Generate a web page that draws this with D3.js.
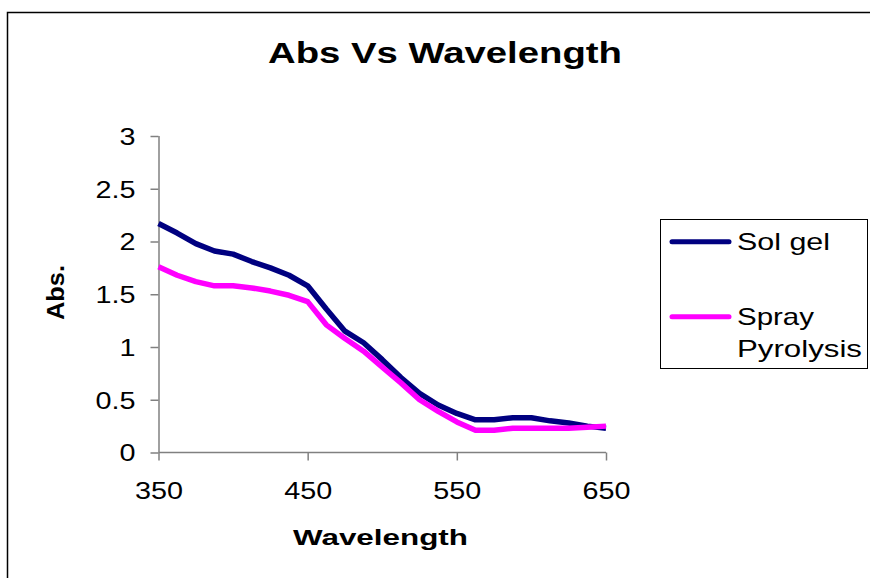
<!DOCTYPE html>
<html>
<head>
<meta charset="utf-8">
<script src="https://cdn.jsdelivr.net/npm/d3@7"></script>
<style>
  body { margin: 0; background: #fff; }
  text { font-family: "Liberation Sans", Arial, sans-serif; }
</style>
</head>
<body>
<div id="chart"></div>
<script>
var width  = 870;
var height = 578;

// wavelength (nm), every 12.5 nm
var wavelengths = [350, 362.5, 375, 387.5, 400, 412.5, 425, 437.5, 450, 462.5, 475, 487.5, 500,
  512.5, 525, 537.5, 550, 562.5, 575, 587.5, 600, 612.5, 625, 637.5, 650];
var solGel = [2.17, 2.08, 1.98, 1.91, 1.88, 1.81, 1.75, 1.68, 1.58, 1.36, 1.15, 1.04, 0.88,
  0.71, 0.56, 0.45, 0.37, 0.31, 0.31, 0.33, 0.33, 0.30, 0.28, 0.25, 0.23];
var sprayPyrolysis = [1.76, 1.68, 1.62, 1.58, 1.58, 1.56, 1.53, 1.49, 1.43, 1.21, 1.08, 0.96, 0.81,
  0.66, 0.50, 0.39, 0.29, 0.21, 0.21, 0.23, 0.23, 0.23, 0.23, 0.24, 0.25];
var seriesNames = ["Sol gel", "Spray Pyrolysis"];
var xTicks = [350, 450, 550, 650];
var yTicks = [0, 0.5, 1, 1.5, 2, 2.5, 3];

var svg = d3.select("#chart").append("svg")
  .attr("width", width)
  .attr("height", height);

// outer chart frame (runs off the right and bottom)
svg.append("rect")
  .attr("x", 7.5).attr("y", 12.5)
  .attr("width", 900).attr("height", 600)
  .style("fill", "none").style("stroke", "#000").style("stroke-width", 1.5);

var x = d3.scaleLinear().domain([350, 650]).range([158.5, 606]);
var y = d3.scaleLinear().domain([0, 3]).range([452.5, 136]);

// text in the picture is stretched sideways, so fit each label to its width
function labelWidth(s) {
  var w = 0;
  for (var i = 0; i < s.length; i++) w += (s[i] === ".") ? 8 : 16;
  return w;
}

// y axis
var yAxis = svg.append("g")
  .attr("transform", "translate(158.5,0)")
  .call(d3.axisLeft(y).tickValues(yTicks).tickSize(8).tickPadding(15)
    .tickFormat(function(d) { return String(d); }));
yAxis.select(".domain").attr("d", "M0.5," + y(3) + "V" + y(0));

// x axis
var xAxis = svg.append("g")
  .attr("transform", "translate(0,452.5)")
  .call(d3.axisBottom(x).tickValues(xTicks).tickSize(8).tickPadding(22)
    .tickFormat(function(d) { return String(d); }));
xAxis.select(".domain").attr("d", "M" + x(350) + ",0H" + x(650));

svg.selectAll(".domain, .tick line")
  .style("stroke", "#808080").style("stroke-width", 1.5);
svg.selectAll(".tick text")
  .style("font-size", "23px")
  .style("fill", "#000")
  .attr("textLength", function(d) { return labelWidth(String(d)); })
  .attr("lengthAdjust", "spacingAndGlyphs");
yAxis.selectAll(".tick text").attr("dy", "0.36em");

// lines
var line = d3.line()
  .x(function(d) { return x(d[0]); })
  .y(function(d) { return y(d[1]); });

var series = [
  { name: seriesNames[0], color: "#000080", values: d3.zip(wavelengths, solGel) },
  { name: seriesNames[1], color: "#ff00ff", values: d3.zip(wavelengths, sprayPyrolysis) }
];

svg.selectAll(".series")
  .data(series)
  .enter().append("path")
  .attr("class", "series")
  .attr("d", function(d) { return line(d.values); })
  .style("fill", "none")
  .style("stroke", function(d) { return d.color; })
  .style("stroke-width", 5.5)
  .style("stroke-linejoin", "round");

// title
svg.append("text")
  .attr("x", 445).attr("y", 63)
  .attr("text-anchor", "middle")
  .attr("textLength", 354).attr("lengthAdjust", "spacingAndGlyphs")
  .style("font-size", "29px").style("font-weight", "bold")
  .text("Abs Vs Wavelength");

// axis titles
svg.append("text")
  .attr("x", 380.5).attr("y", 545)
  .attr("text-anchor", "middle")
  .attr("textLength", 175).attr("lengthAdjust", "spacingAndGlyphs")
  .style("font-size", "22px").style("font-weight", "bold")
  .text("Wavelength");

svg.append("text")
  .attr("transform", "translate(64,292.5) rotate(-90)")
  .attr("text-anchor", "middle")
  .attr("textLength", 55).attr("lengthAdjust", "spacingAndGlyphs")
  .style("font-size", "23px").style("font-weight", "bold")
  .text("Abs.");

// legend
var legend = svg.append("g");
legend.append("rect")
  .attr("x", 660.5).attr("y", 219.5)
  .attr("width", 207).attr("height", 149)
  .style("fill", "#fff").style("stroke", "#000").style("stroke-width", 1);

var legendRows = [
  { color: series[0].color, y: 241.7, lines: ["Sol gel"], widths: [93] },
  { color: series[1].color, y: 316.7, lines: ["Spray", "Pyrolysis"], widths: [77, 125] }
];

legendRows.forEach(function(r) {
  legend.append("line")
    .attr("x1", 672).attr("x2", 729)
    .attr("y1", r.y).attr("y2", r.y)
    .style("stroke", r.color).style("stroke-width", 5)
    .style("stroke-linecap", "round");
  r.lines.forEach(function(t, i) {
    legend.append("text")
      .attr("x", 737).attr("y", r.y + 8 + i * 32)
      .attr("textLength", r.widths[i]).attr("lengthAdjust", "spacingAndGlyphs")
      .style("font-size", "24px")
      .text(t);
  });
});
</script>
</body>
</html>
